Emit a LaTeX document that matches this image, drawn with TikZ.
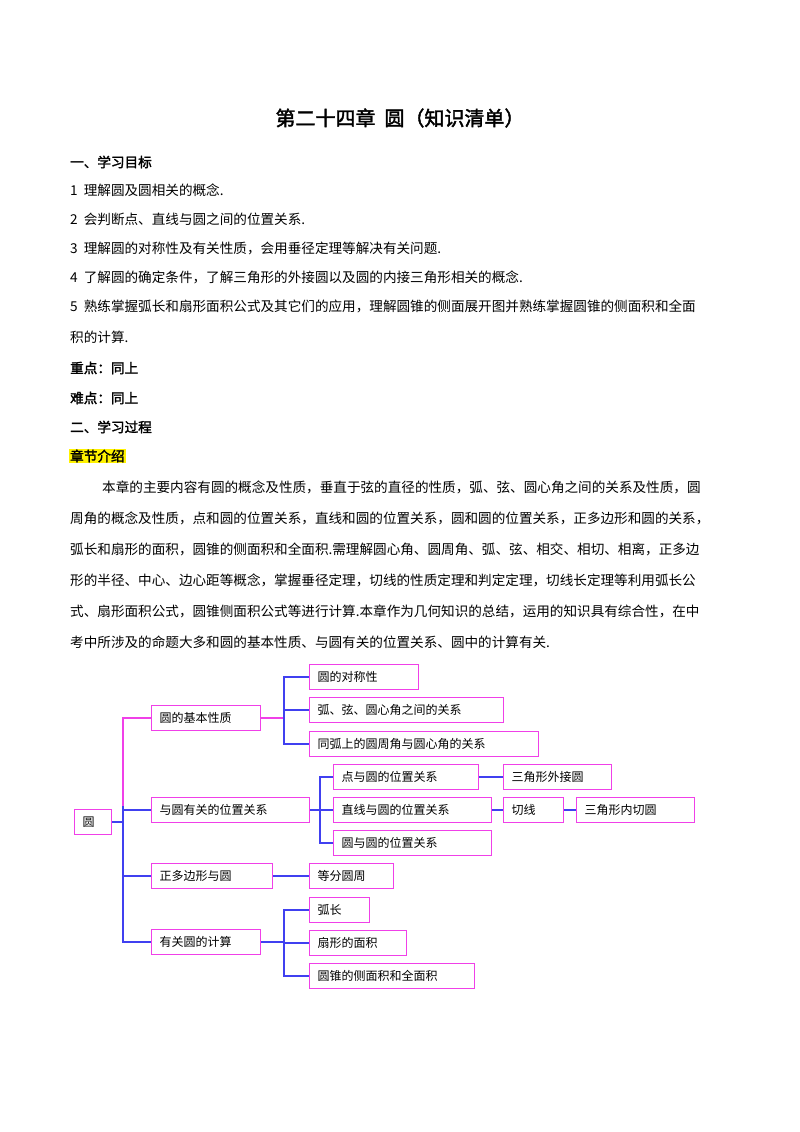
\documentclass[tikz,border=0pt]{standalone}
\usepackage{fontspec}
\setmainfont{Noto Sans CJK SC}[AutoFakeBold=2]
\definecolor{bmag}{HTML}{F040E8}
\definecolor{bblu}{HTML}{4040F0}
\begin{document}
\begin{tikzpicture}[x=1pt,y=-1pt,
  box/.style={draw=bmag,line width=1.3pt,align=left,inner xsep=8pt,inner ysep=0pt,minimum height=25pt,font=\fontsize{12}{13}\selectfont,anchor=west},
  bl/.style={draw=bblu,line width=1.3pt},
  mg/.style={draw=bmag,line width=1.3pt},
  tx/.style={anchor=west,inner sep=0pt,font=\fontsize{13.6}{14}\selectfont},
  hd/.style={tx,font=\fontsize{13.6}{14}\selectfont\bfseries}]
\useasboundingbox (0,0) rectangle (800,1132);
% title
\node[font=\fontsize{20}{22}\selectfont\bfseries] (title) at (400,118) {第二十四章\ \ 圆（知识清单）};
\node[hd] (h1) at (70,162) {一、学习目标};
\node[tx] (g1) at (70,190) {1\ \ 理解圆及圆相关的概念.};
\node[tx] (g2) at (70,219) {2\ \ 会判断点、直线与圆之间的位置关系.};
\node[tx] (g3) at (70,248) {3\ \ 理解圆的对称性及有关性质，会用垂径定理等解决有关问题.};
\node[tx] (g4) at (70,277) {4\ \ 了解圆的确定条件，了解三角形的外接圆以及圆的内接三角形相关的概念.};
\node[tx] (g5) at (70,306) {5\ \ 熟练掌握弧长和扇形面积公式及其它们的应用，理解圆锥的侧面展开图并熟练掌握圆锥的侧面积和全面};
\node[tx] (g6) at (70,337) {积的计算.};
\node[hd] (zd) at (70,368) {重点：同上};
\node[hd] (nd) at (70,398) {难点：同上};
\node[hd] (h2) at (70,427) {二、学习过程};
\node[hd,fill=yellow,inner sep=1pt] (zj) at (69,456) {章节介绍};
\node[tx] (p1) at (102,487) {本章的主要内容有圆的概念及性质，垂直于弦的直径的性质，弧、弦、圆心角之间的关系及性质，圆};
\node[tx] (p2) at (70,518) {周角的概念及性质，点和圆的位置关系，直线和圆的位置关系，圆和圆的位置关系，正多边形和圆的关系，};
\node[tx] (p3) at (70,549) {弧长和扇形的面积，圆锥的侧面积和全面积.需理解圆心角、圆周角、弧、弦、相交、相切、相离，正多边};
\node[tx] (p4) at (70,580) {形的半径、中心、边心距等概念，掌握垂径定理，切线的性质定理和判定定理，切线长定理等利用弧长公};
\node[tx] (p5) at (70,611) {式、扇形面积公式，圆锥侧面积公式等进行计算.本章作为几何知识的总结，运用的知识具有综合性，在中};
\node[tx] (p6) at (70,642) {考中所涉及的命题大多和圆的基本性质、与圆有关的位置关系、圆中的计算有关.};
% diagram boxes
\node[box,text width=21pt] (root) at (74,822) {圆};
\node[box,text width=93pt] (a) at (151,718) {圆的基本性质};
\node[box,text width=142pt] (b) at (151,810) {与圆有关的位置关系};
\node[box,text width=105pt] (c) at (151,876) {正多边形与圆};
\node[box,text width=93pt] (d) at (151,942) {有关圆的计算};
\node[box,text width=93pt] (a1) at (309,677) {圆的对称性};
\node[box,text width=178pt] (a2) at (309,710) {弧、弦、圆心角之间的关系};
\node[box,text width=213pt] (a3) at (309,744) {同弧上的圆周角与圆心角的关系};
\node[box,text width=129pt] (b1) at (333,777) {点与圆的位置关系};
\node[box,text width=92pt] (b1a) at (503,777) {三角形外接圆};
\node[box,text width=142pt] (b2) at (333,810) {直线与圆的位置关系};
\node[box,text width=44pt] (b2a) at (503,810) {切线};
\node[box,text width=102pt] (b2b) at (576,810) {三角形内切圆};
\node[box,text width=142pt] (b3) at (333,843) {圆与圆的位置关系};
\node[box,text width=68pt] (c1) at (309,876) {等分圆周};
\node[box,text width=44pt] (d1) at (309,910) {弧长};
\node[box,text width=81pt] (d2) at (309,943) {扇形的面积};
\node[box,text width=149pt] (d3) at (309,976) {圆锥的侧面积和全面积};
% connectors
\coordinate (s) at (123,822);
\draw[bl] (root.east) -- (s);
\draw[mg] (a.west) -| (123,806);
\draw[bl] (b.west) -- (123,810) -- (123,806);
\draw[bl] (123,810) |- (d.west);
\draw[bl] (c.west) -- (123,876);
\draw[mg] (a.east) -- (284,718);
\draw[bl] (a1.west) -| (284,744) -- (a3.west);
\draw[bl] (a2.west) -- (284,710);
\draw[bl] (b.east) -- (320,810);
\draw[bl] (b1.west) -| (320,843) -- (b3.west);
\draw[bl] (b2.west) -- (320,810);
\draw[bl] (b1.east) -- (b1a.west);
\draw[bl] (b2.east) -- (b2a.west);
\draw[bl] (b2a.east) -- (b2b.west);
\draw[bl] (c.east) -- (c1.west);
\draw[bl] (d.east) -- (284,942);
\draw[bl] (d1.west) -| (284,976) -- (d3.west);
\draw[bl] (d2.west) -- (284,943);
\end{tikzpicture}
\end{document}
